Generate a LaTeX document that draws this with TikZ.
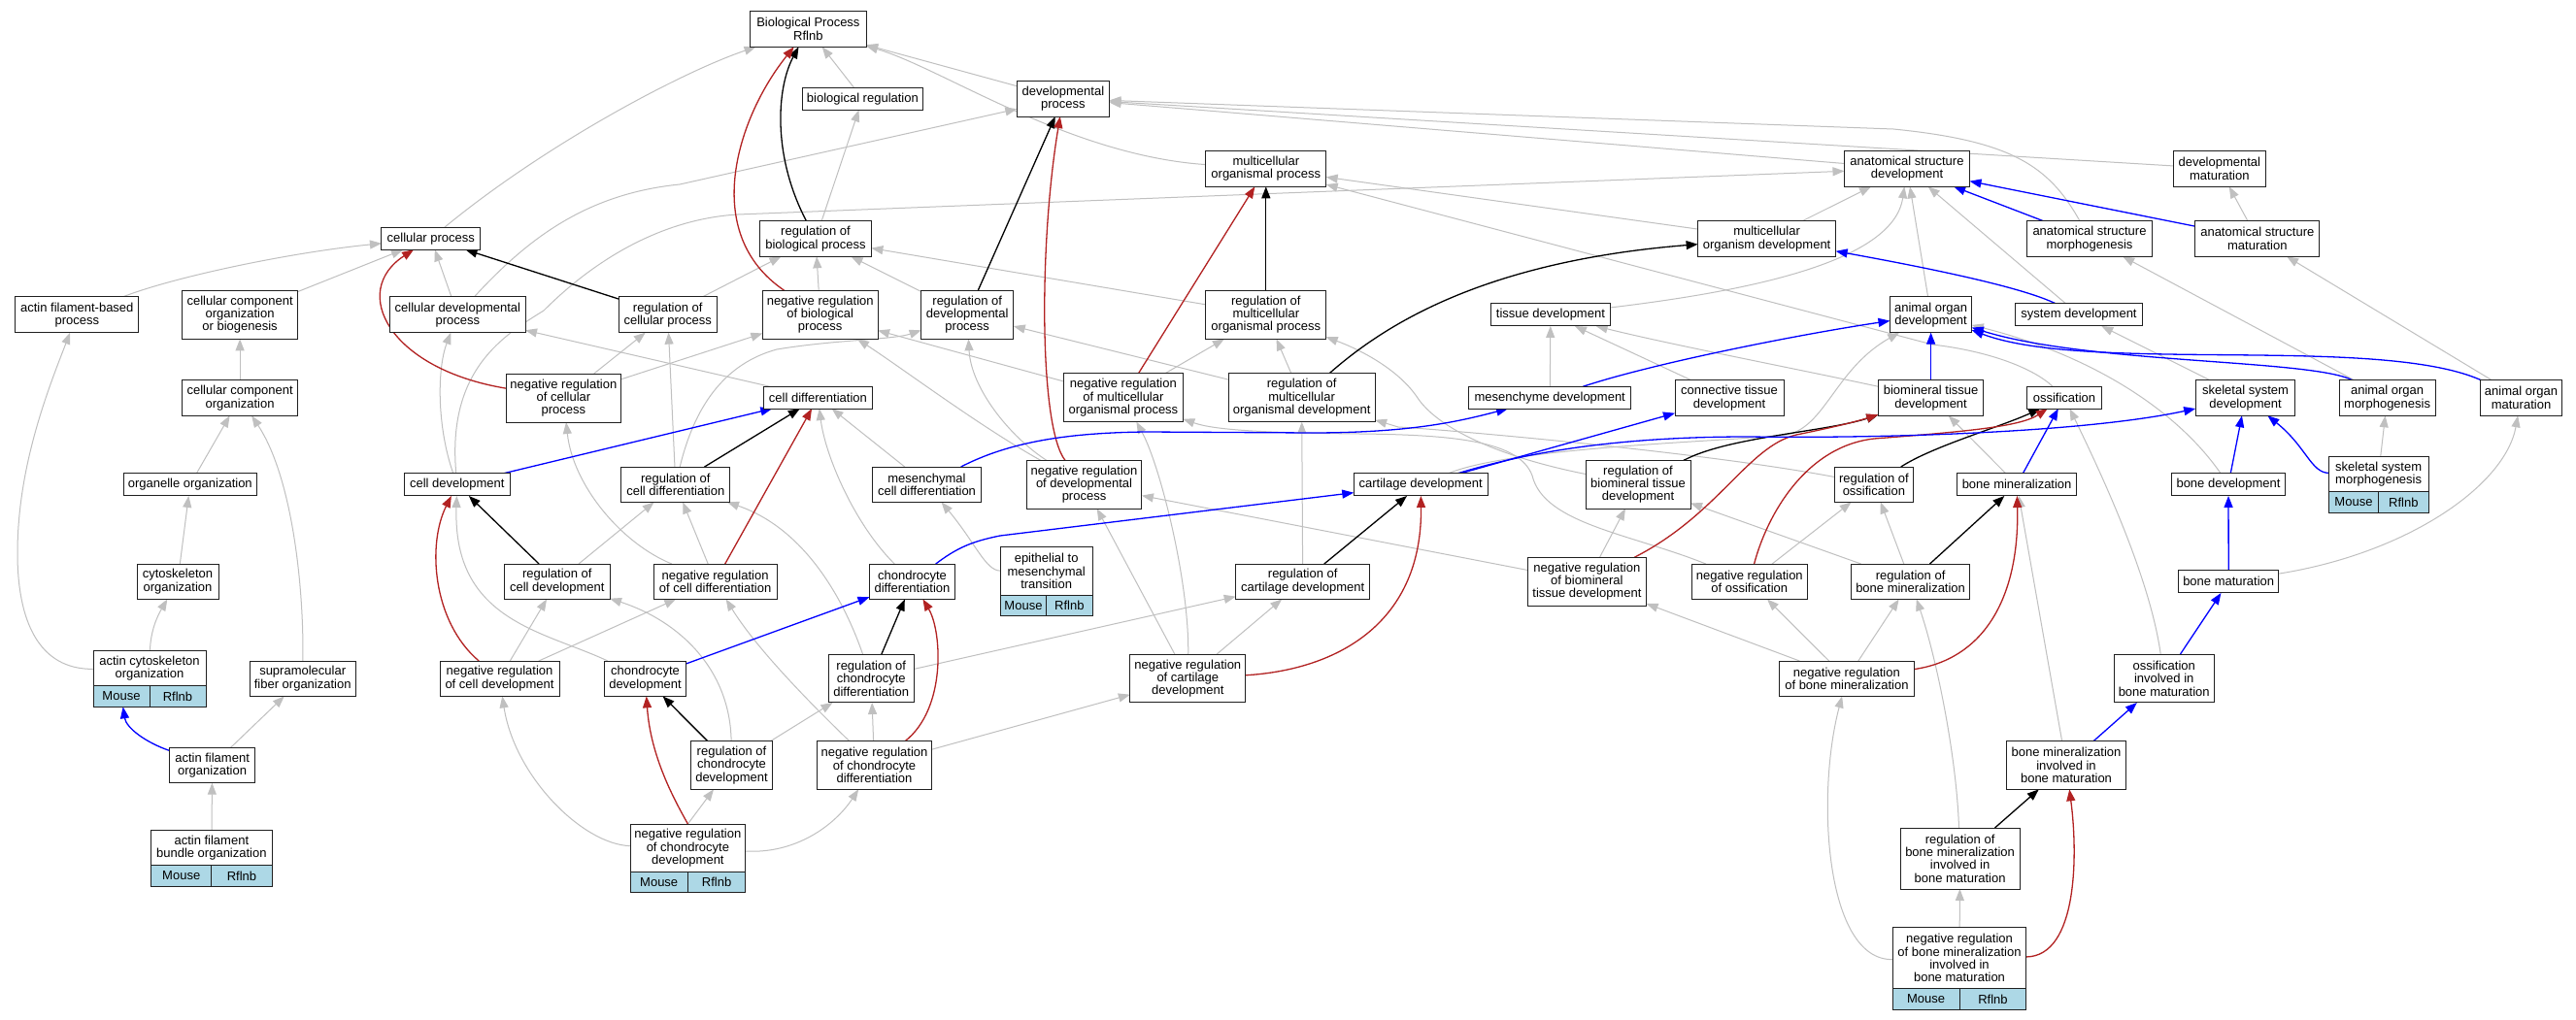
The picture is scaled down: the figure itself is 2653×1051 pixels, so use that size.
\documentclass[tikz,border=0pt]{standalone}
\usepackage{fontspec}
\setmainfont{Liberation Sans}
\usetikzlibrary{arrows.meta,backgrounds}
\definecolor{egray}{HTML}{C0C0C0}
\definecolor{ered}{HTML}{B22222}
\definecolor{eblue}{HTML}{0000FF}
\definecolor{tabblue}{HTML}{ADD8E6}
\definecolor{bordc}{HTML}{202020}
\newcommand\gvf{\fontsize{13}{13.3}\selectfont}
\tikzset{
  box/.style={draw=bordc, line width=1pt, fill=white, inner sep=0pt, outer sep=0pt, align=center, font=\gvf},
  cell/.style={draw=bordc, line width=1pt, fill=tabblue, inner sep=0pt, outer sep=0pt, minimum height=21.6pt, font=\gvf},
  tip/.style={-{Triangle[length=12pt,width=9pt]}},
  eisa/.style={draw=egray, line width=1pt, tip},
  ereg/.style={draw=black, line width=1.3pt, tip},
  eneg/.style={draw=ered, line width=1.3pt, tip},
  epart/.style={draw=eblue, line width=1.3pt, tip},
}
\newcommand\nd[6]{\node[box,minimum width=#4pt,minimum height=#5pt] (#1) at (#2,#3) {#6};}
\newcommand\tnd[6]{\node[box,minimum width=#4pt,minimum height=#5pt] (#1) at (#2,#3) {#6};
  \node[cell,minimum width=#4pt/2,anchor=north west] (#1-m) at (#1.south west) {Mouse};
  \node[cell,minimum width=#4pt/2,anchor=north east] (#1-r) at (#1.south east) {Rflnb};}
\begin{document}
\begin{tikzpicture}[x=1pt,y=-1pt]
\useasboundingbox (0,0) rectangle (2653,1051);
% nodes
\nd{bp}{832.4}{30}{119.2}{36.6}{Biological Process\\Rflnb}
\nd{bioreg}{888.4}{101.7}{124.1}{23.3}{biological regulation}
\nd{devproc}{1094.9}{101.7}{95.1}{36.7}{developmental\\process}
\nd{mop}{1303.8}{173.8}{123.7}{37}{multicellular\\organismal process}
\nd{asd}{1964}{173.8}{129}{37}{anatomical structure\\development}
\nd{devmat}{2285.8}{173.8}{95}{37}{developmental\\maturation}
\nd{cellproc}{443.8}{245.8}{101.7}{23}{cellular process}
\nd{regbp}{840}{246}{114.7}{36.6}{regulation of\\biological process}
\nd{mod}{1819.6}{246}{142}{36.6}{multicellular\\organism development}
\nd{asm}{2152}{246}{128.7}{36.6}{anatomical structure\\morphogenesis}
\nd{asmat}{2324.8}{246}{128.2}{36.6}{anatomical structure\\maturation}
\nd{afbp}{79.3}{324.3}{127.3}{36.7}{actin filament-based\\process}
\nd{ccob}{247.1}{324.3}{119.2}{50}{cellular component\\organization\\or biogenesis}
\nd{celldevproc}{471.4}{324.3}{139.2}{36.7}{cellular developmental\\process}
\nd{regcellproc}{687.7}{324.3}{101.4}{36.7}{regulation of\\cellular process}
\nd{negregbp}{844.7}{324.3}{118.7}{50}{negative regulation\\of biological\\process}
\nd{regdevproc}{996.2}{324.3}{95.1}{50}{regulation of\\developmental\\process}
\nd{regmop}{1303.8}{324.3}{123.7}{50}{regulation of\\multicellular\\organismal process}
\nd{tissuedev}{1596.9}{324.3}{123.2}{23.3}{tissue development}
\nd{aod}{1988.6}{324.3}{84.3}{36.7}{animal organ\\development}
\nd{sysdev}{2141}{324.3}{131}{23.3}{system development}
\nd{ccorg}{247.1}{410}{119.2}{36.6}{cellular component\\organization}
\nd{negregcp}{580.4}{410}{118.7}{50}{negative regulation\\of cellular\\process}
\nd{celldiff}{842.4}{409.7}{112.4}{22.7}{cell differentiation}
\nd{negregmop}{1156.9}{409.8}{122.8}{49.7}{negative regulation\\of multicellular\\organismal process}
\nd{regmod}{1340.6}{409.8}{151}{49.7}{regulation of\\multicellular\\organismal development}
\nd{mesdev}{1596.2}{409.7}{166.5}{22.7}{mesenchyme development}
\nd{ctd}{1781}{410}{112}{36.6}{connective tissue\\development}
\nd{btd}{1988.6}{410}{108.5}{36.6}{biomineral tissue\\development}
\nd{ossif}{2126}{409.7}{76.7}{22.7}{ossification}
\nd{ssd}{2312.5}{410}{102.7}{36.6}{skeletal system\\development}
\nd{aom}{2458.6}{410}{99.1}{36.6}{animal organ\\morphogenesis}
\nd{aomat}{2596.5}{410}{84.3}{36.6}{animal organ\\maturation}
\nd{organelle}{195.8}{499.3}{137.1}{23.3}{organelle organization}
\nd{celldev}{470.8}{499.3}{108.5}{23.3}{cell development}
\nd{regcelldiff}{695.8}{499.2}{112.1}{36.3}{regulation of\\cell differentiation}
\nd{mescd}{954.5}{499.2}{111.7}{36.3}{mesenchymal\\cell differentiation}
\nd{negregdp}{1116.5}{499.2}{118.8}{49.7}{negative regulation\\of developmental\\process}
\nd{cartdev}{1463.2}{499.3}{137.9}{23.3}{cartilage development}
\nd{regbtd}{1687}{499.2}{108}{49.7}{regulation of\\biomineral tissue\\development}
\nd{regoss}{1929.9}{499.2}{81.2}{36.3}{regulation of\\ossification}
\nd{bonemin}{2077.1}{499.3}{123.2}{23.3}{bone mineralization}
\nd{bonedev}{2295}{499.3}{116.1}{23.3}{bone development}
\nd{cytoorg}{183}{599.2}{84}{36.3}{cytoskeleton\\organization}
\nd{regcelldev}{573.8}{599.2}{108.4}{36.3}{regulation of\\cell development}
\nd{negregcd}{736.6}{599.2}{126.8}{36.3}{negative regulation\\of cell differentiation}
\nd{chondiff}{939.5}{599.2}{88}{36.3}{chondrocyte\\differentiation}
\nd{regcartdev}{1341.7}{599.2}{138}{36.3}{regulation of\\cartilage development}
\nd{negregbtd}{1634.4}{599.2}{122.3}{49.7}{negative regulation\\of biomineral\\tissue development}
\nd{negregoss}{1801.8}{599.2}{118.7}{36.3}{negative regulation\\of ossification}
\nd{regbm}{1967.6}{599.2}{122.7}{36.3}{regulation of\\bone mineralization}
\nd{bonemat}{2295.2}{599.3}{103.2}{23.3}{bone maturation}
\nd{supra}{311.7}{699.2}{109.2}{36.3}{supramolecular\\fiber organization}
\nd{negregcelldev}{514.5}{699.2}{123}{36.3}{negative regulation\\of cell development}
\nd{chondev}{664.5}{699.2}{84.2}{36.3}{chondrocyte\\development}
\nd{regchondiff}{897.2}{699.3}{88}{49.3}{regulation of\\chondrocyte\\differentiation}
\nd{negregcartdev}{1223.3}{699.3}{118.8}{49.3}{negative regulation\\of cartilage\\development}
\nd{negregbm}{1901.9}{699.2}{138.2}{36.3}{negative regulation\\of bone mineralization}
\nd{oibm}{2228.7}{699.3}{103}{49.3}{ossification\\involved in\\bone maturation}
\nd{afo}{218.6}{788.5}{88.3}{36.4}{actin filament\\organization}
\nd{regchondev}{753.5}{788.5}{83.7}{49.6}{regulation of\\chondrocyte\\development}
\nd{negregchondiff}{900.5}{788.5}{118.7}{49.6}{negative regulation\\of chondrocyte\\differentiation}
\nd{bmibm}{2128}{788.5}{122.9}{49.6}{bone mineralization\\involved in\\bone maturation}
\nd{regbmibm}{2018.6}{884.5}{122.8}{63}{regulation of\\bone mineralization\\involved in\\bone maturation}
\tnd{actcyto}{154}{688.7}{116}{36}{actin cytoskeleton\\organization}
\tnd{afbo}{217.85}{873.7}{124.5}{36}{actin filament\\bundle organization}
\tnd{negregchondev}{708.4}{873.65}{118.8}{49.3}{negative regulation\\of chondrocyte\\development}
\tnd{emt}{1077.65}{588.5}{94.7}{49.6}{epithelial to\\mesenchymal\\transition}
\tnd{ssm}{2449.65}{488.5}{102.7}{36.4}{skeletal system\\morphogenesis}
\tnd{negregbmibm}{2018}{987.2}{137.8}{63}{negative regulation\\of bone mineralization\\involved in\\bone maturation}
% edges
\begin{pgfonlayer}{background}
\fill[white] (0,0) rectangle (2653,1051);
% is_a (gray)
\draw[eisa] (cellproc) .. controls (560,150) and (700,75) .. (bp);
\draw[eisa] (bioreg) -- (bp);
\draw[eisa] (devproc) -- (bp);
\draw[eisa] (mop) .. controls (1100,160) and (970,70) .. (bp);
\draw[eisa] (regbp) -- (bioreg);
\draw[eisa] (celldevproc) .. controls (540,250) and (600,200) .. (700,190) -- (devproc);
\draw[eisa] (asd) -- (devproc);
\draw[eisa] (asm) .. controls (2110,170) and (2070,145) .. (1950,133) -- (devproc);
\draw[eisa] (devmat) -- (devproc);
\draw[eisa] (mod) -- (mop);
\draw[eisa] (ossif) .. controls (2095,380) and (2050,362) .. (1990,355) -- (mop);
\draw[eisa] (celldev) .. controls (460,380) and (520,345) .. (560,320) .. controls (620,260) and (690,225) .. (760,221) -- (asd);
\draw[eisa] (afbp) .. controls (180,285) and (300,260) .. (cellproc);
\draw[eisa] (ccob) -- (cellproc);
\draw[eisa] (celldevproc) -- (cellproc);
\draw[eisa] (ccorg) -- (ccob);
\draw[eisa] (organelle) -- (ccorg);
\draw[eisa] (cytoorg) -- (organelle);
\draw[eisa] (actcyto) .. controls (155,650) and (162,635) .. (cytoorg);
\draw[eisa] (actcyto) .. controls (40,690) and (18,640) .. (18,570) .. controls (18,480) and (50,400) .. (afbp);
\draw[eisa] (supra) .. controls (313,600) and (300,490) .. (ccorg);
\draw[eisa] (afo) -- (supra);
\draw[eisa] (afbo) -- (afo);
\draw[eisa] (regcellproc) -- (regbp);
\draw[eisa] (negregbp) -- (regbp);
\draw[eisa] (regdevproc) -- (regbp);
\draw[eisa] (regmop) -- (regbp);
\draw[eisa] (celldev) .. controls (450,440) and (450,380) .. (celldevproc);
\draw[eisa] (celldiff) -- (celldevproc);
\draw[eisa] (negregcp) -- (regcellproc);
\draw[eisa] (regcelldiff) -- (regcellproc);
\draw[eisa] (negregcp) -- (negregbp);
\draw[eisa] (regcelldiff) .. controls (715,420) and (745,375) .. (800,360) .. controls (860,350) and (920,350) .. (regdevproc);
\draw[eisa] (negregdp) .. controls (1010,440) and (930,380) .. (negregbp);
\draw[eisa] (negregmop) -- (negregbp);
\draw[eisa] (negregmop) -- (regmop);
\draw[eisa] (regmod) -- (regmop);
\draw[eisa] (regmod) -- (regdevproc);
\draw[eisa] (negregdp) .. controls (1040,450) and (1000,400) .. (regdevproc);
\draw[eisa] (chondiff) .. controls (880,540) and (850,470) .. (celldiff);
\draw[eisa] (mescd) -- (celldiff);
\draw[eisa] (negregcd) -- (regcelldiff);
\draw[eisa] (regcelldev) -- (regcelldiff);
\draw[eisa] (negregcd) .. controls (640,560) and (590,500) .. (negregcp);
\draw[eisa] (chondev) .. controls (560,650) and (466,640) .. (celldev);
\draw[eisa] (negregcelldev) -- (regcelldev);
\draw[eisa] (negregcelldev) -- (negregcd);
\draw[eisa] (regchondev) .. controls (752,690) and (700,640) .. (regcelldev);
\draw[eisa] (negregchondev) .. controls (600,870) and (530,800) .. (negregcelldev);
\draw[eisa] (negregchondev.north) -- (regchondev);
\draw[eisa] (negregchondev) .. controls (820,880) and (860,850) .. (negregchondiff);
\draw[eisa] (negregchondiff) -- (regchondiff);
\draw[eisa] (regchondev) -- (regchondiff);
\draw[eisa] (regchondiff) .. controls (870,620) and (830,545) .. (regcelldiff);
\draw[eisa] (negregchondiff) .. controls (840,730) and (780,670) .. (negregcd);
\draw[eisa] (regchondiff) -- (regcartdev);
\draw[eisa] (negregchondiff) -- (negregcartdev);
\draw[eisa] (negregcartdev) -- (negregdp);
\draw[eisa] (negregcartdev) -- (regcartdev);
\draw[eisa] (negregcartdev) .. controls (1225,600) and (1195,480) .. (negregmop);
\draw[eisa] (regcartdev) -- (regmod);
\draw[eisa] (negregbtd) -- (negregdp);
\draw[eisa] (emt) .. controls (1015,588) and (1005,560) .. (mescd);
\draw[eisa] (mesdev) -- (tissuedev);
\draw[eisa] (ctd) -- (tissuedev);
\draw[eisa] (btd) .. controls (1850,380) and (1720,355) .. (tissuedev);
\draw[eisa] (tissuedev) .. controls (1800,300) and (1950,270) .. (asd);
\draw[eisa] (aod) -- (asd);
\draw[eisa] (sysdev) -- (asd);
\draw[eisa] (asmat) -- (devmat);
\draw[eisa] (mod) -- (asd);
\draw[eisa] (ssd) -- (sysdev);
\draw[eisa] (aom) -- (asm);
\draw[eisa] (aomat) -- (asmat);
\draw[eisa] (bonedev) .. controls (2240,420) and (2150,365) .. (aod);
\draw[eisa] (cartdev) .. controls (1560,460) and (1780,455) .. (1840,448) .. controls (1880,440) and (1890,380) .. (aod);
\draw[eisa] (negregbtd) -- (regbtd);
\draw[eisa] (regbm) -- (regbtd);
\draw[eisa] (negregoss) -- (regoss);
\draw[eisa] (negregoss) .. controls (1680,550) and (1590,540) .. (1578,490) .. controls (1565,455) and (1500,448) .. (1400,447) .. controls (1300,446) and (1250,443) .. (negregmop);
\draw[eisa] (regoss) .. controls (1750,465) and (1480,442) .. (1440,440) -- (regmod);
\draw[eisa] (regbtd) .. controls (1540,470) and (1480,440) .. (1460,410) .. controls (1440,380) and (1400,360) .. (regmop);
\draw[eisa] (regbm) -- (regoss);
\draw[eisa] (negregbm) -- (negregbtd);
\draw[eisa] (negregbm) -- (negregoss);
\draw[eisa] (negregbm) -- (regbm);
\draw[eisa] (bonemin) -- (btd);
\draw[eisa] (oibm) .. controls (2215,600) and (2170,500) .. (ossif);
\draw[eisa] (bonemat) .. controls (2480,570) and (2580,500) .. (aomat);
\draw[eisa] (ssm) -- (aom);
\draw[eisa] (bmibm) -- (bonemin);
\draw[eisa] (negregbmibm) -- (regbmibm);
\draw[eisa] (negregbmibm) .. controls (1880,990) and (1870,820) .. (negregbm);
\draw[eisa] (regbmibm) .. controls (2015,780) and (1995,680) .. (regbm);
% regulates (black)
\draw[ereg] (regbp) .. controls (795,160) and (800,90) .. (bp);
\draw[ereg] (regcellproc) -- (cellproc);
\draw[ereg] (regdevproc) -- (devproc);
\draw[ereg] (regmop) -- (mop);
\draw[ereg] (regmod) .. controls (1420,340) and (1520,270) .. (mod);
\draw[ereg] (regcelldiff) -- (celldiff);
\draw[ereg] (regcelldev) -- (celldev);
\draw[ereg] (regchondev) -- (chondev);
\draw[ereg] (regchondiff) -- (chondiff);
\draw[ereg] (regcartdev) -- (cartdev);
\draw[ereg] (regbtd) .. controls (1780,450) and (1880,445) .. (btd);
\draw[ereg] (regoss) .. controls (1990,460) and (2060,440) .. (ossif);
\draw[ereg] (regbm) -- (bonemin);
\draw[ereg] (regbmibm) -- (bmibm);
% negatively regulates (red)
\draw[eneg] (negregbp) .. controls (720,240) and (760,120) .. (bp);
\draw[eneg] (negregcp) .. controls (400,380) and (360,300) .. (cellproc);
\draw[eneg] (negregdp) .. controls (1070,440) and (1070,250) .. (devproc);
\draw[eneg] (negregmop) -- (mop);
\draw[eneg] (negregcd) -- (celldiff);
\draw[eneg] (negregcelldev) .. controls (445,640) and (440,560) .. (celldev);
\draw[eneg] (negregchondev.north) .. controls (695,825) and (670,780) .. (chondev);
\draw[eneg] (negregchondiff) .. controls (975,730) and (970,650) .. (chondiff);
\draw[eneg] (negregcartdev) .. controls (1380,690) and (1465,640) .. (cartdev);
\draw[eneg] (negregbtd) .. controls (1770,530) and (1800,460) .. (1850,448) .. controls (1880,442) and (1910,435) .. (btd);
\draw[eneg] (negregoss) .. controls (1820,530) and (1860,460) .. (1930,452) .. controls (2020,445) and (2080,440) .. (ossif);
\draw[eneg] (negregbm) .. controls (2040,680) and (2080,620) .. (bonemin);
\draw[eneg] (negregbmibm) .. controls (2140,985) and (2140,880) .. (bmibm);
% part_of (blue)
\draw[epart] (afo) .. controls (150,765) and (130,750) .. (actcyto-m);
\draw[epart] (celldev) -- (celldiff);
\draw[epart] (chondev) -- (chondiff);
\draw[epart] (chondiff) .. controls (985,565) and (1000,558) .. (1030,552) -- (cartdev);
\draw[epart] (mescd) .. controls (1040,455) and (1100,446) .. (1180,445) -- (1350,446) .. controls (1450,446) and (1500,435) .. (mesdev);
\draw[epart] (mesdev) .. controls (1700,375) and (1850,345) .. (aod);
\draw[epart] (cartdev) -- (ctd);
\draw[epart] (cartdev) .. controls (1560,470) and (1650,450) .. (1800,450) .. controls (1950,452) and (2150,445) .. (ssd);
\draw[epart] (btd) -- (aod);
\draw[epart] (bonemin) -- (ossif);
\draw[epart] (sysdev) .. controls (2080,295) and (1980,275) .. (mod);
\draw[epart] (asm) -- (asd);
\draw[epart] (asmat) -- (asd);
\draw[epart] (aom) .. controls (2380,370) and (2150,375) .. (aod);
\draw[epart] (aomat) .. controls (2450,345) and (2150,385) .. (aod);
\draw[epart] (bonedev) -- (ssd);
\draw[epart] (ssm) .. controls (2380,487) and (2375,460) .. (ssd);
\draw[epart] (bonemat) -- (bonedev);
\draw[epart] (oibm) -- (bonemat);
\draw[epart] (bmibm) -- (oibm);
\end{pgfonlayer}
\end{tikzpicture}
\end{document}
